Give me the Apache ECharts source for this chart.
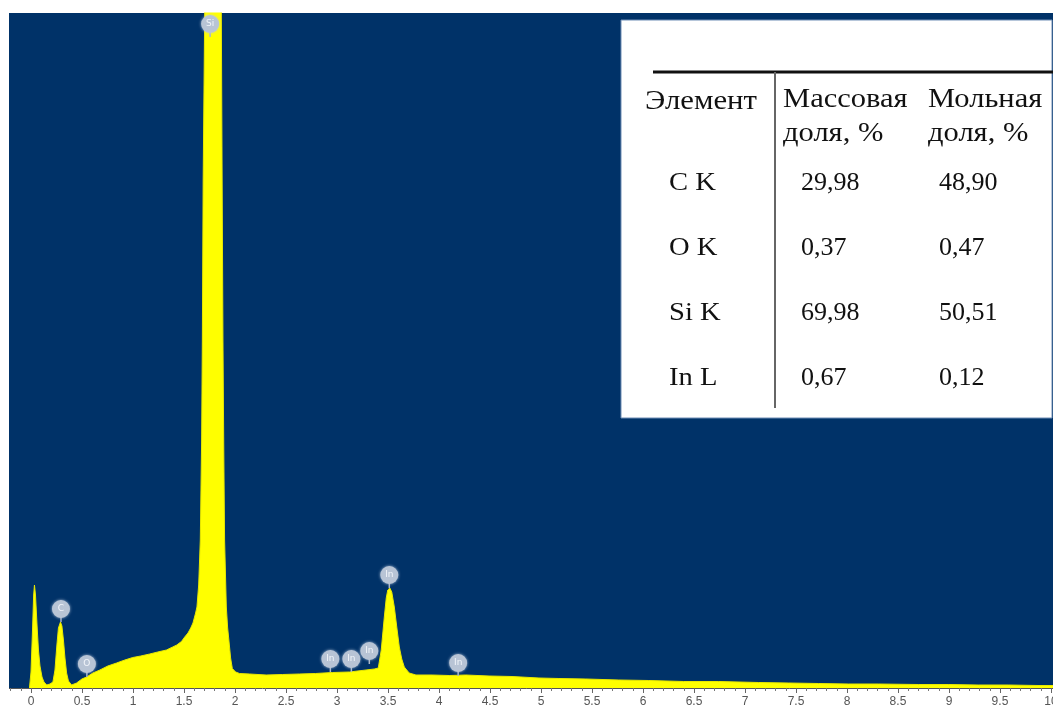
<!DOCTYPE html>
<html>
<head>
<meta charset="utf-8">
<title>EDS спектр</title>
<script src="https://cdn.jsdelivr.net/npm/echarts@6/dist/echarts.min.js"></script>
<style>
  html, body { margin: 0; padding: 0; background: #ffffff; }
  #chart { width: 1053px; height: 711px; }
</style>
</head>
<body>
<div id="chart"></div>
<script>
// EDS spectrum: energy (keV) and counts
const energyKeV = [
  -0.015, 0.000, 0.015, 0.026, 0.034, 0.044, 0.059, 0.073, 0.088, 0.108, 0.127, 0.154, 0.186,
  0.215, 0.235, 0.254, 0.269, 0.289, 0.303, 0.318, 0.333, 0.349, 0.367, 0.398,
  0.447, 0.499, 0.545, 0.607, 0.675, 0.753, 0.839, 0.920, 0.998, 1.076, 1.164, 1.243, 1.328,
  1.389, 1.429, 1.475, 1.507, 1.539, 1.566, 1.588, 1.614, 1.627, 1.644, 1.660, 1.673, 1.680,
  1.688, 1.703, 1.730, 1.760, 1.785, 1.810, 1.840, 1.866, 1.874, 1.882, 1.890, 1.898, 1.915,
  1.928, 1.940, 1.957, 1.974, 2.006, 2.045, 2.143, 2.306, 2.466, 2.632, 2.789, 2.955, 3.121,
  3.285, 3.366, 3.405, 3.434, 3.464, 3.483, 3.498, 3.518, 3.537, 3.562, 3.586, 3.611, 3.635,
  3.660, 3.708, 3.774, 3.933, 4.100, 4.263, 4.491, 4.716, 4.980, 5.176, 5.440, 5.763, 6.057,
  6.399, 6.742, 7.133, 7.427, 7.720, 8.014, 8.307, 8.699, 8.992, 9.286, 9.580, 9.873, 10.02
];
const counts = [
  0, 32, 116, 186, 206, 186, 126, 76, 44, 22, 12, 6, 8,
  12, 36, 86, 120, 132, 124, 96, 60, 30, 14, 6,
  10, 18, 22, 30, 36, 44, 50, 56, 61, 64, 68, 72, 76,
  82, 86, 93, 102, 110, 120, 130, 150, 162, 206, 296, 496, 696,
  1016, 1350, 2100, 2600, 2750, 2550, 2000, 1350, 1016, 696, 476, 296, 162,
  120, 96, 60, 39, 32, 29, 28, 26, 27, 28, 29, 31, 32,
  36, 38, 40, 76, 142, 180, 196, 200, 192, 162, 122, 82, 58,
  42, 30, 26, 26, 25, 26, 24, 23, 20, 19, 18, 16, 15,
  13, 13, 11, 10, 9, 8, 8, 7, 7, 6, 6, 5, 5
];

// Line identification markers
const markerLabels = ['Si', 'C', 'O', 'In', 'In', 'In', 'In', 'In'];
const markerKeV    = [1.756, 0.294, 0.548, 2.935, 3.141, 3.317, 3.513, 4.188];
const markerCounts = [1302, 132, 22, 32, 32, 48, 200, 24];

// Composition table
const tableHeader = ['Элемент', 'Массовая', 'доля, %', 'Мольная', 'доля, %'];
const elements     = ['C K', 'O K', 'Si K', 'In L'];
const massFraction = ['29,98', '0,37', '69,98', '0,67'];
const molarFraction = ['48,90', '0,47', '50,51', '0,12'];

const spectrum = energyKeV.map((e, i) => [e, counts[i]]);
const markers = markerKeV.map((e, i) => [e, markerCounts[i]]);

const serifFamily = 'Liberation Serif';
const ink = '#111111';

function cell(text, x, y, size, scaleX) {
  return {
    type: 'text', x: x, y: y, scaleX: scaleX || 1, z: 101,
    style: { text: text, x: 0, y: 0, fontSize: size, fontFamily: serifFamily,
             fill: ink, align: 'left', verticalAlign: 'middle' }
  };
}

const tableChildren = [
  { type: 'rect', shape: { x: 621, y: 20, width: 431, height: 398 },
    style: { fill: '#ffffff', stroke: '#6f8db5', lineWidth: 1 }, z: 100 },
  { type: 'line', shape: { x1: 653, y1: 72, x2: 1053, y2: 72 },
    style: { stroke: '#111111', lineWidth: 3 }, z: 101 },
  { type: 'line', shape: { x1: 775, y1: 72, x2: 775, y2: 408 },
    style: { stroke: '#666666', lineWidth: 2 }, z: 101 },
  cell(tableHeader[0], 645, 102, 27, 1.14),
  cell(tableHeader[1], 783, 100, 27, 1.13),
  cell(tableHeader[2], 783, 134, 27, 1.13),
  cell(tableHeader[3], 928, 100, 27, 1.13),
  cell(tableHeader[4], 928, 134, 27, 1.13)
];
const rowY = [183, 248, 313, 378];
elements.forEach((el, i) => {
  tableChildren.push(cell(el, 669, rowY[i], 26, 1.1));
  tableChildren.push(cell(massFraction[i], 801, rowY[i], 26, 1));
  tableChildren.push(cell(molarFraction[i], 939, rowY[i], 26, 1));
});

const chart = echarts.init(document.getElementById('chart'), null, { renderer: 'canvas' });

chart.setOption({
  animation: false,
  backgroundColor: '#ffffff',
  grid: {
    left: -20, right: 0, top: 13, bottom: 23,
    outerBoundsMode: 'none',
    containLabel: false,
    show: true, backgroundColor: '#003268', borderWidth: 0
  },
  xAxis: {
    type: 'value',
    min: -0.5, max: 10.02, interval: 0.5,
    axisLine: { show: true, onZero: false, lineStyle: { color: '#555555', width: 1 } },
    axisTick: { show: true, length: 5, lineStyle: { color: '#666666' } },
    minorTick: { show: true, splitNumber: 5, length: 3, lineStyle: { color: '#777777' } },
    splitLine: { show: false },
    axisLabel: {
      margin: 8, color: '#555555', fontSize: 12, fontFamily: 'Liberation Sans',
      showMinLabel: false, showMaxLabel: true, hideOverlap: false,
      formatter: function (v) {
        if (v < -1e-9) return '';
        if (Math.abs(v * 2 - Math.round(v * 2)) > 1e-6) return '';
        const r = Math.round(v * 2) / 2;
        return String(r);
      }
    }
  },
  yAxis: {
    type: 'value', min: 0, max: 1350, show: false
  },
  series: [
    {
      type: 'line',
      data: spectrum,
      symbol: 'none',
      smooth: false,
      clip: true,
      lineStyle: { color: '#e8e800', width: 1 },
      areaStyle: { color: '#ffff00', opacity: 1 },
      z: 2
    },
    {
      type: 'custom',
      data: markers,
      clip: false,
      z: 5,
      renderItem: function (params, api) {
        const p = api.coord([api.value(0), api.value(1)]);
        const cy = p[1] - 13;
        return {
          type: 'group',
          children: [
            { type: 'line', shape: { x1: p[0], y1: p[1], x2: p[0], y2: cy + 8 },
              style: { stroke: '#a9b6c9', lineWidth: 1.5 } },
            { type: 'circle', shape: { cx: p[0], cy: cy, r: 9 },
              style: { fill: '#b8c4d5', shadowBlur: 3, shadowColor: 'rgba(190,205,225,0.9)' } },
            { type: 'text',
              style: { text: markerLabels[params.dataIndex], x: p[0], y: cy,
                       align: 'center', verticalAlign: 'middle',
                       fill: '#f2f5fa', fontSize: 9, fontFamily: 'DejaVu Sans' } }
          ]
        };
      }
    }
  ],
  graphic: [
    // white margin to the left of the plot
    { type: 'rect', shape: { x: 0, y: 0, width: 9, height: 711 }, style: { fill: '#ffffff' }, z: 90 },
    { type: 'group', children: tableChildren, z: 100 }
  ]
});
</script>
</body>
</html>
